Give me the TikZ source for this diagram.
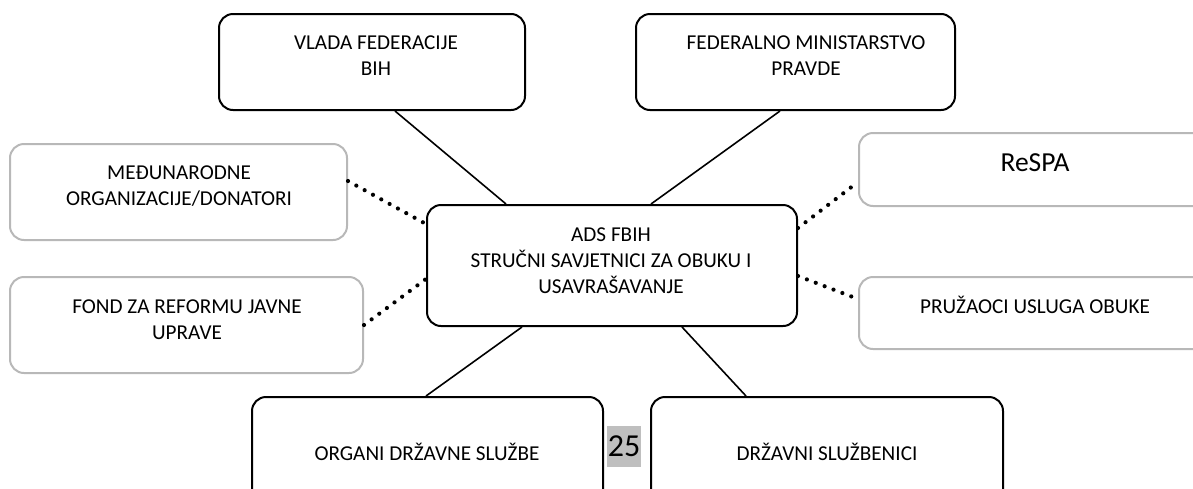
\documentclass[tikz,border=0pt]{standalone}
\usepackage{fontspec}
\setmainfont{Carlito}
\begin{document}
\begin{tikzpicture}[x=1pt,y=-1pt,
  blackbox/.style={draw=black,line width=2pt,rounded corners=14pt,inner sep=0pt},
  graybox/.style={draw=black!28,line width=2pt,rounded corners=14pt,inner sep=0pt},
  txt/.style={align=center,inner sep=0pt,font=\fontsize{21.2}{26}\selectfont},
  solidlink/.style={line width=1.6pt},
  dotlink/.style={line width=4.2pt,line cap=round,dash pattern=on 0pt off 9.5pt}]
\useasboundingbox (0,0) rectangle (1193,488);
\clip (0,0) rectangle (1193,488);
% boxes
\node[blackbox,minimum width=306pt,minimum height=96pt] (vlada) at (372,62) {};
\node[blackbox,minimum width=319pt,minimum height=96pt] (fed) at (795.5,62) {};
\node[blackbox,minimum width=370pt,minimum height=121pt] (ads) at (612,265.5) {};
\node[graybox,minimum width=337pt,minimum height=96pt] (med) at (178.5,192) {};
\node[graybox,minimum width=353pt,minimum height=96pt] (fond) at (186.5,325) {};
\node[graybox,minimum width=352pt,minimum height=73pt] (respa) at (1035,169.5) {};
\node[graybox,minimum width=352pt,minimum height=72pt] (pruz) at (1035,313) {};
\node[blackbox,minimum width=351pt,minimum height=110pt] (organi) at (427.5,452) {};
\node[blackbox,minimum width=352pt,minimum height=110pt] (drz) at (827,452) {};
% texts
\node[txt] (vladat) at (376,56) {VLADA FEDERACIJE\\BIH};
\node[txt] (fedt) at (806,56) {FEDERALNO MINISTARSTVO\\PRAVDE};
\node[txt] (adst) at (611,261) {ADS FBIH\\STRUČNI SAVJETNICI ZA OBUKU I\\USAVRAŠAVANJE};
\node[txt] (medt) at (179,186) {MEĐUNARODNE\\ORGANIZACIJE/DONATORI};
\node[txt] (fondt) at (187,320) {FOND ZA REFORMU JAVNE\\UPRAVE};
\node[txt,font=\fontsize{27.5}{30}\selectfont] (respat) at (1035,163) {ReSPA};
\node[txt] (pruzt) at (1035,305) {PRUŽAOCI USLUGA OBUKE};
\node[txt] (organit) at (427,452) {ORGANI DRŽAVNE SLUŽBE};
\node[txt] (drzt) at (827,452) {DRŽAVNI SLUŽBENICI};
\node[fill=black!25,inner sep=0pt,minimum width=34pt,minimum height=41pt,font=\fontsize{32}{32}\selectfont] (page) at (624,446.5) {25};
% solid connectors
\draw[solidlink] ([xshift=177pt]vlada.south west) -- ([xshift=80pt]ads.north west);
\draw[solidlink] ([xshift=145pt]fed.south west) -- ([xshift=225pt]ads.north west);
\draw[solidlink] ([xshift=96pt]ads.south west) -- ([xshift=175pt]organi.north west);
\draw[solidlink] ([xshift=256pt]ads.south west) -- ([xshift=96pt]drz.north west);
% dotted connectors
\draw[dotlink] ([yshift=-38pt]med.north east) -- ([yshift=-20pt]ads.north west);
\draw[dotlink] (fond.east) -- ([yshift=-75pt]ads.north west);
\draw[dotlink] ([yshift=-24pt]ads.north east) -- ([yshift=-50pt]respa.north west);
\draw[dotlink] ([yshift=-72pt]ads.north east) -- ([yshift=-23pt]pruz.north west);
\end{tikzpicture}
\end{document}
